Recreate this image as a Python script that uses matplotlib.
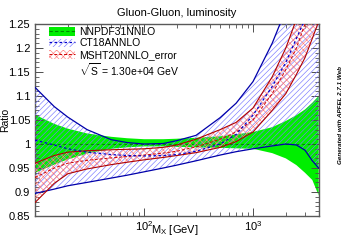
import matplotlib
matplotlib.use("Agg")
import matplotlib.pyplot as plt
from matplotlib.patches import Patch
from matplotlib.lines import Line2D
from matplotlib.ticker import MultipleLocator, LogLocator, NullFormatter, FixedLocator, FixedFormatter

plt.rcParams['font.family'] = ['Liberation Sans', 'DejaVu Sans']
plt.rcParams['mathtext.fontset'] = 'custom'
plt.rcParams['mathtext.rm'] = 'Liberation Sans'
plt.rcParams['mathtext.it'] = 'Liberation Sans:italic'
plt.rcParams['hatch.linewidth'] = 0.45

# Data
mass = [10, 15, 20, 30, 50, 70, 100, 150, 200, 300, 500, 700, 1000, 1500, 2000, 2500, 3000, 3500, 4000]

nnpdf_up = [1.061, 1.042, 1.032, 1.022, 1.015, 1.012, 1.010, 1.010, 1.011, 1.013, 1.016, 1.020, 1.025, 1.035, 1.048, 1.060, 1.072, 1.086, 1.100]
nnpdf_lo = [0.940, 0.957, 0.968, 0.980, 0.990, 0.993, 0.995, 0.995, 0.994, 0.993, 0.992, 0.991, 0.990, 0.981, 0.970, 0.956, 0.940, 0.925, 0.893]
nnpdf_c = [1.0] * len(mass)

ct18_up = [1.118, 1.078, 1.056, 1.030, 1.009, 1.003, 1.000, 1.001, 1.007, 1.018, 1.055, 1.085, 1.130, 1.210, 1.280, 1.350, 1.420, 1.500, 1.570]
ct18_c = [1.008, 0.998, 0.990, 0.983, 0.978, 0.976, 0.975, 0.976, 0.978, 0.985, 1.000, 1.020, 1.060, 1.120, 1.170, 1.220, 1.260, 1.300, 1.340]
ct18_lo = [0.897, 0.906, 0.913, 0.920, 0.929, 0.935, 0.942, 0.950, 0.956, 0.965, 0.977, 0.984, 0.990, 0.996, 1.000, 0.998, 0.987, 0.965, 0.950]

msht_up = [0.960, 0.976, 0.983, 0.986, 0.988, 0.989, 0.990, 0.993, 0.998, 1.010, 1.030, 1.045, 1.075, 1.140, 1.200, 1.260, 1.320, 1.380, 1.440]
msht_c = [0.930, 0.950, 0.960, 0.966, 0.971, 0.974, 0.977, 0.981, 0.985, 0.994, 1.010, 1.025, 1.050, 1.105, 1.155, 1.200, 1.250, 1.300, 1.340]
msht_lo = [0.878, 0.918, 0.938, 0.948, 0.957, 0.962, 0.967, 0.972, 0.976, 0.982, 0.993, 1.005, 1.025, 1.070, 1.105, 1.145, 1.180, 1.220, 1.255]

labels = ['NNPDF31NNLO', 'CT18ANNLO', 'MSHT20NNLO_error']
xtick_vals = [100, 1000]
xtick_labels = [r'$10^{2}$', r'$10^{3}$']
title = 'Gluon-Gluon, luminosity'
sqrts_text = r'$\sqrt{\mathrm{S}}$ = 1.30e+04 GeV'

green = '#00ee00'
green_dark = '#008800'
blue_line = '#0000aa'
blue_hatch = '#7878ff'
red_line = '#b00000'
red_hatch = '#ff7c7c'

fig = plt.figure(figsize=(3.54, 2.40), dpi=100)
ax = fig.add_axes([35/354, 1 - 216/240, (319 - 35)/354, (216 - 24)/240])

ax.fill_between(mass, nnpdf_lo, nnpdf_up, facecolor=green, edgecolor='none', linewidth=0, zorder=1)
ax.plot(mass, nnpdf_c, color=green_dark, ls=(0, (3, 2)), lw=0.8, zorder=2)

ax.fill_between(mass, ct18_lo, ct18_up, facecolor='none', edgecolor=blue_hatch, hatch='//////', linewidth=0, zorder=3)
ax.plot(mass, ct18_up, color=blue_line, lw=0.9, zorder=6)
ax.plot(mass, ct18_lo, color=blue_line, lw=0.9, zorder=6)

ax.fill_between(mass, msht_lo, msht_up, facecolor='none', edgecolor=red_hatch, hatch='xxxxx', linewidth=0, zorder=4)
ax.plot(mass, msht_up, color=red_line, lw=0.8, zorder=6)
ax.plot(mass, msht_lo, color=red_line, lw=0.8, zorder=6)
ax.plot(mass, msht_c, color='#cc0000', ls=(0, (3, 2)), lw=0.7, zorder=7)
ax.plot(mass, ct18_c, color='#0000cc', ls=(0, (2, 2)), lw=0.9, zorder=7)

ax.set_xscale('log')
ax.set_xlim(10, 4030)
ax.set_ylim(0.85, 1.25)
ax.yaxis.set_major_locator(MultipleLocator(0.05))
ax.yaxis.set_minor_locator(MultipleLocator(0.01))
ax.xaxis.set_major_locator(FixedLocator([10] + xtick_vals))
ax.xaxis.set_major_formatter(FixedFormatter([''] + xtick_labels))
ax.xaxis.set_minor_locator(LogLocator(base=10, subs=range(2, 10)))
ax.xaxis.set_minor_formatter(NullFormatter())
ax.yaxis.set_major_formatter(matplotlib.ticker.FuncFormatter(lambda v, p: ('%.2f' % v).rstrip('0').rstrip('.')))
ax.tick_params(which='both', direction='in', top=True, right=True, labelsize=8, color='0.3')
ax.tick_params(axis='x', which='major', pad=2)
ax.tick_params(which='major', length=6, width=0.7)
ax.tick_params(which='minor', length=3, width=0.6)
for s in ax.spines.values():
    s.set_color('0.35')
    s.set_linewidth(1.0)

ax.set_title(title, fontsize=8, pad=6)
ax.set_ylabel('Ratio', fontsize=7.5)
ax.yaxis.set_label_coords(-25/284, 0.5)
fig.text(175/354, 1 - 230/240, r'M$_{\mathrm{X}}$ [GeV]', fontsize=8, ha='center', va='center')

h1 = (Patch(facecolor=green, edgecolor='none'), Line2D([], [], color=green_dark, ls=(0, (3, 2)), lw=0.8))
h2 = (Patch(facecolor='none', edgecolor=blue_hatch, hatch='//////', linewidth=0), Line2D([], [], color='#0000cc', ls=(0, (2, 2)), lw=0.9))
h3 = (Patch(facecolor='none', edgecolor=red_hatch, hatch='xxxxx', linewidth=0), Line2D([], [], color='#cc0000', ls=(0, (3, 2)), lw=0.7))
h4 = Patch(facecolor='none', edgecolor='none')
leg = ax.legend([h1, h2, h3, h4], labels + [sqrts_text], loc='upper left',
                bbox_to_anchor=(0.05, 0.985), frameon=False, fontsize=7.5,
                handlelength=2.5, handleheight=0.9, handletextpad=0.4,
                labelspacing=0.15, borderaxespad=0.0, borderpad=0.0)
leg.set_zorder(10)

fig.text(340/354, 1 - 115/240, 'Generated with APFEL 2.7.1 Web', rotation=90,
         fontsize=4.5, fontweight='bold', fontstyle='italic', ha='center', va='center')

fig.savefig('out.png', dpi=100)
